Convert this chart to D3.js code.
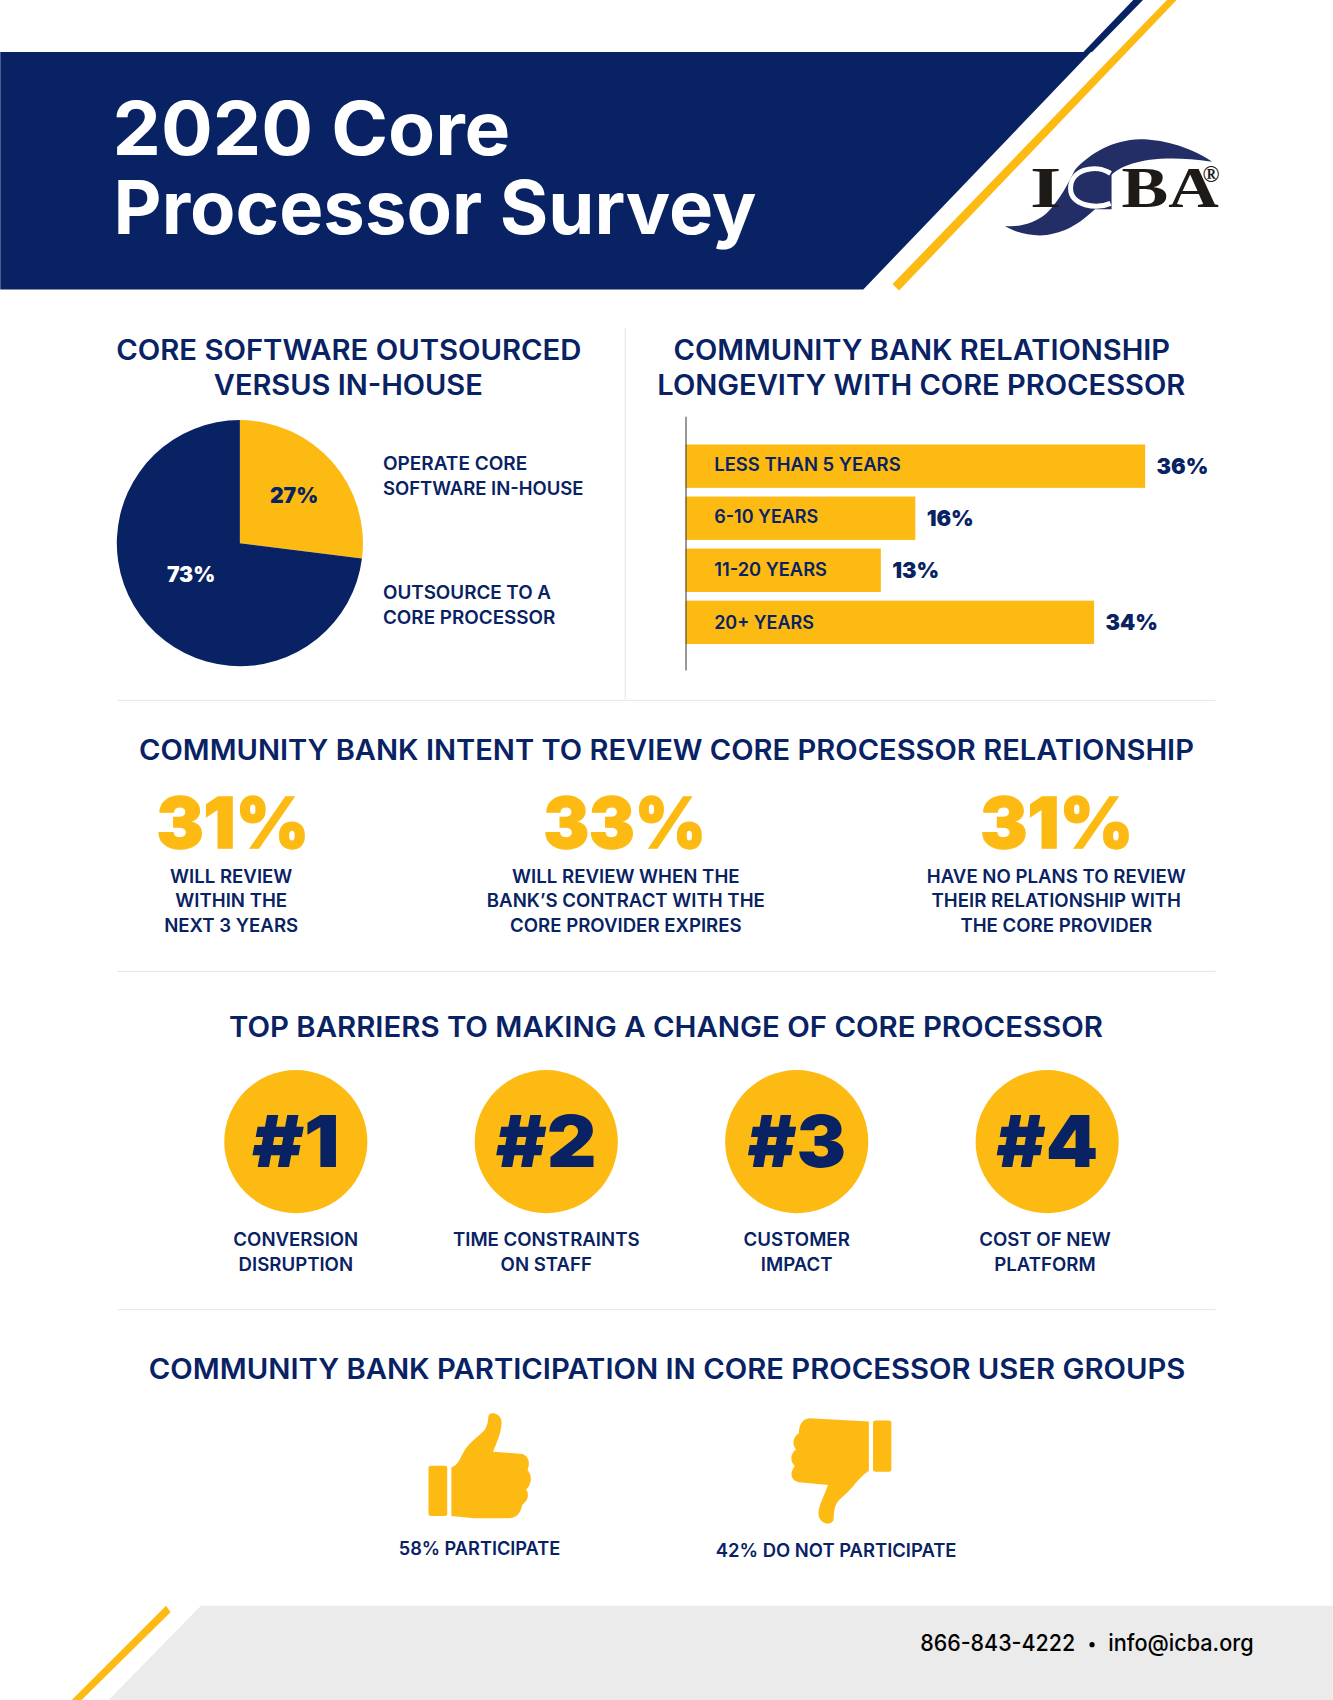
<!DOCTYPE html>
<html>
<head>
<meta charset="utf-8">
<title>2020 Core Processor Survey</title>
<script src="https://cdn.jsdelivr.net/npm/d3@7"></script>
<style>
  html, body { margin: 0; padding: 0; background: #fff; }
  svg { display: block; }
  text { font-family: Inter, "Noto Sans", sans-serif; }
</style>
</head>
<body>
<svg id="chart"></svg>
<script>
// chart values
const pieLabels = ["Operate core software in-house", "Outsource to a core processor"];
const pieValues = [27, 73];

const barCategories = ["LESS THAN 5 YEARS", "6-10 YEARS", "11-20 YEARS", "20+ YEARS"];
const barPercents = [36, 16, 13, 34];
// the printed bars are not proportional to their labels, so lengths are read separately
const barLengths = [36, 18, 15.3, 32];

const reviewValues = [31, 33, 31];
const reviewLines = [
  ["WILL REVIEW", "WITHIN THE", "NEXT 3 YEARS"],
  ["WILL REVIEW WHEN THE", "BANK\u2019S CONTRACT WITH THE", "CORE PROVIDER EXPIRES"],
  ["HAVE NO PLANS TO REVIEW", "THEIR RELATIONSHIP WITH", "THE CORE PROVIDER"]
];

const barrierRanks = ["#1", "#2", "#3", "#4"];
const barrierLines = [
  ["CONVERSION", "DISRUPTION"],
  ["TIME CONSTRAINTS", "ON STAFF"],
  ["CUSTOMER", "IMPACT"],
  ["COST OF NEW", "PLATFORM"]
];

const participateValues = [58, 42];

const navy = "#082263";
const gold = "#fcba13";
const rule = "#e9e9e9";

const svg = d3.select("#chart")
  .attr("width", 1333)
  .attr("height", 1700)
  .attr("viewBox", "0 0 1229 1568");

// w is the width the line has in the reference
function label(s, x, y, size, weight, color, anchor, w) {
  const t = svg.append("text")
    .attr("x", x)
    .attr("y", y)
    .attr("font-size", size)
    .attr("font-weight", weight)
    .attr("fill", color)
    .attr("text-anchor", anchor || "start")
    .text(s);
  if (w) t.attr("textLength", w).attr("lengthAdjust", "spacingAndGlyphs");
  return t;
}

function poly(points, fill) {
  svg.append("path").attr("d", d3.line()(points) + "Z").attr("fill", fill);
}

// header band
poly([[0, 48], [998, 48], [1006, 48], [796, 267], [0, 267]], navy);
poly([[999, 48], [1045, 0], [1054, 0], [1007, 48]], navy);
poly([[1076, 0], [1085, 0], [829, 268], [823, 262]], gold);

const title = svg.append("text").attr("font-size", 68).attr("font-weight", 700).attr("fill", "#fff");
title.append("tspan").attr("x", 103.5).attr("y", 143)
  .attr("textLength", 367).attr("lengthAdjust", "spacingAndGlyphs").text("2020 Core");
title.append("tspan").attr("x", 104.5).attr("y", 216)
  .attr("textLength", 593).attr("lengthAdjust", "spacingAndGlyphs").text("Processor Survey");

// logo
const logo = svg.append("g").attr("transform", "translate(903.6,110.7) scale(.3073,.3075)");
logo.append("path")
  .attr("d", "M697,125 C620,75 540,58 480,58 C400,60 330,100 285,150 C265,190 240,240 200,280 C165,310 120,322 75,318 C110,340 160,350 200,345 C270,335 310,300 345,268 L395,268 L395,165 C430,130 520,100 697,125 Z")
  .attr("fill", "#232e66");
logo.append("path")
  .attr("d", "M392,250 C350,268 272,258 272,205 C272,150 345,130 392,160")
  .attr("fill", "none").attr("stroke", "#fff").attr("stroke-width", 15);
logo.append("text").attr("x", 150).attr("y", 262).attr("font-size", 170).attr("font-weight", 700)
  .style("font-family", "'Liberation Serif'").attr("fill", "#1d1a17")
  .attr("textLength", 94).attr("lengthAdjust", "spacingAndGlyphs").text("I");
logo.append("text").attr("x", 425).attr("y", 262).attr("font-size", 170).attr("font-weight", 700)
  .style("font-family", "'Liberation Serif'").attr("fill", "#1d1a17")
  .attr("textLength", 292).attr("lengthAdjust", "spacingAndGlyphs").text("BA");
logo.append("text").attr("x", 668).attr("y", 185).attr("font-size", 68).attr("font-weight", 700)
  .style("font-family", "'Liberation Serif'").attr("fill", "#1d1a17").text("\u00ae");

// dividers
[[576.5, 302, 576.5, 645], [108, 646, 1121, 646], [108, 896, 1121, 896], [108, 1208, 1121, 1208]]
  .forEach(d => {
    svg.append("line")
      .attr("x1", d[0]).attr("y1", d[1]).attr("x2", d[2]).attr("y2", d[3])
      .attr("stroke", rule).attr("stroke-width", 1.2);
  });

// pie
label("CORE SOFTWARE OUTSOURCED", 321.5, 332.5, 26, 600, navy, "middle", 429);
label("VERSUS IN-HOUSE", 321, 364.5, 26, 600, navy, "middle", 248);

const pie = d3.pie().sort(null)(pieValues);
const arc = d3.arc().innerRadius(0).outerRadius(113.5);
const pieG = svg.append("g").attr("transform", "translate(221,501)");
pieG.selectAll("path")
  .data(pie)
  .join("path")
  .attr("d", arc)
  .attr("fill", (d, i) => i === 0 ? gold : navy);

label(pieValues[0] + "%", 271, 464, 19.5, 900, navy, "middle");
label(pieValues[1] + "%", 176, 537, 19.5, 900, "#fff", "middle");

label("OPERATE CORE", 353, 433.5, 17, 600, navy, "start", 133);
label("SOFTWARE IN-HOUSE", 353, 456.5, 17, 600, navy, "start", 185);
label("OUTSOURCE TO A", 353, 552.5, 17, 600, navy, "start", 155);
label("CORE PROCESSOR", 353, 575.5, 17, 600, navy, "start", 159);

// bars
label("COMMUNITY BANK RELATIONSHIP", 850, 332.5, 26, 600, navy, "middle", 458);
label("LONGEVITY WITH CORE PROCESSOR", 849.5, 364.5, 26, 600, navy, "middle", 487);

const x = d3.scaleLinear().domain([0, 36]).range([632, 1056]);
const y = d3.scaleBand().domain(barCategories).range([384, 618])
  .paddingInner(1 / 6).paddingOuter(0.52).align(0.52);

svg.selectAll("rect.bar")
  .data(barCategories)
  .join("rect")
  .attr("class", "bar")
  .attr("x", x(0))
  .attr("y", d => y(d))
  .attr("width", (d, i) => x(barLengths[i]) - x(0))
  .attr("height", y.bandwidth())
  .attr("fill", gold);

svg.append("g")
  .attr("transform", "translate(632,0)")
  .call(d3.axisLeft(y).tickSize(0).tickFormat(""))
  .select(".domain").attr("stroke", "#444").attr("stroke-width", 1);

const barLabelW = [172, 96, 104, 92];
const barLabelDy = [4.5, 4.5, 5.5, 6.5];
barCategories.forEach((c, i) => {
  label(c, 658.5, y(c) + y.bandwidth() / 2 + barLabelDy[i], 17, 600, navy, "start", barLabelW[i]);
  label(barPercents[i] + "%", x(barLengths[i]) + 10.5, y(c) + y.bandwidth() / 2 + 7.5, 20, 900, navy);
});

// intent to review
label("COMMUNITY BANK INTENT TO REVIEW CORE PROCESSOR RELATIONSHIP", 614.5, 701, 26, 600, navy, "middle", 973);
const reviewX = [214, 576, 974];
const reviewW = [141, 150, 141];
reviewValues.forEach((v, i) => {
  label(v + "%", reviewX[i] + (i === 1 ? 0 : 0.5), 782, 65, 900, gold, "middle", reviewW[i])
    .attr("stroke", gold).attr("stroke-width", 1.2);
  reviewLines[i].forEach((s, j) => {
    label(s, reviewX[i] - (i === 0 ? 1 : 0) + (i === 1 ? 1 : 0), 814 + j * 23, 17.2, 600, navy, "middle");
  });
});

// barriers
label("TOP BARRIERS TO MAKING A CHANGE OF CORE PROCESSOR", 614, 956.5, 26, 600, navy, "middle", 806);
const cx = d3.scalePoint().domain(barrierRanks).range([272.6, 965.6]);
svg.selectAll("circle.rank")
  .data(barrierRanks)
  .join("circle")
  .attr("class", "rank")
  .attr("cx", d => cx(d))
  .attr("cy", 1053)
  .attr("r", 66)
  .attr("fill", gold);
const rankW = [81, 93, 91, 94];
barrierRanks.forEach((r, i) => {
  label(r, cx(r), 1076, 66, 900, navy, "middle", rankW[i]);
  barrierLines[i].forEach((s, j) => {
    label(s, cx(r) - (i === 3 ? 2 : 0), 1149 + j * 23, 17.2, 600, navy, "middle");
  });
});

// user groups
label("COMMUNITY BANK PARTICIPATION IN CORE PROCESSOR USER GROUPS", 615, 1271.5, 26, 600, navy, "middle", 956);
const thumbUp = svg.append("g")
  .attr("transform", "translate(322,1272.8) scale(.384,.3075)")
  .attr("fill", gold);
thumbUp.append("rect").attr("x", 190).attr("y", 257).attr("width", 45).attr("height", 151).attr("rx", 6);
thumbUp.append("path").attr("d", "M245,262 C262,255 265,235 275,215 C285,190 310,170 325,150 C335,130 332,115 335,105 C340,95 360,98 365,120 C368,150 355,185 345,215 L415,222 C430,228 435,245 428,270 C440,290 438,310 425,328 C432,345 430,360 415,375 C412,395 405,412 385,415 L300,415 L245,408 Z");
const thumbDown = svg.append("g")
  .attr("transform", "translate(320,1272.8) scale(.384,.3075)")
  .attr("fill", gold);
thumbDown.append("rect").attr("x", 1263).attr("y", 122).attr("width", 44).attr("height", 153).attr("rx", 6);
thumbDown.append("path").attr("d", "M1253,125 L1110,115 C1090,118 1085,140 1085,160 C1070,170 1068,195 1078,208 C1062,225 1065,245 1075,258 C1062,280 1065,300 1085,307 L1155,315 C1145,350 1128,385 1133,410 C1138,430 1160,440 1168,420 C1170,385 1170,370 1190,350 C1215,325 1225,295 1253,272 Z");

label(participateValues[0] + "% PARTICIPATE", 442, 1434.5, 17, 600, navy, "middle", 149);
label(participateValues[1] + "% DO NOT PARTICIPATE", 771, 1436.5, 17, 600, navy, "middle", 222);

// footer
poly([[185, 1481], [1229, 1481], [1229, 1568], [100, 1568]], "#ebebeb");
poly([[153, 1481], [157, 1487], [75, 1568], [66, 1568]], gold);
label("866-843-4222", 848.5, 1523, 21, 500, "#000", "start", 143);
svg.append("circle").attr("cx", 1007).attr("cy", 1517).attr("r", 2.4).attr("fill", "#000");
label("info@icba.org", 1022, 1523, 21, 500, "#000", "start", 134);
</script>
</body>
</html>
